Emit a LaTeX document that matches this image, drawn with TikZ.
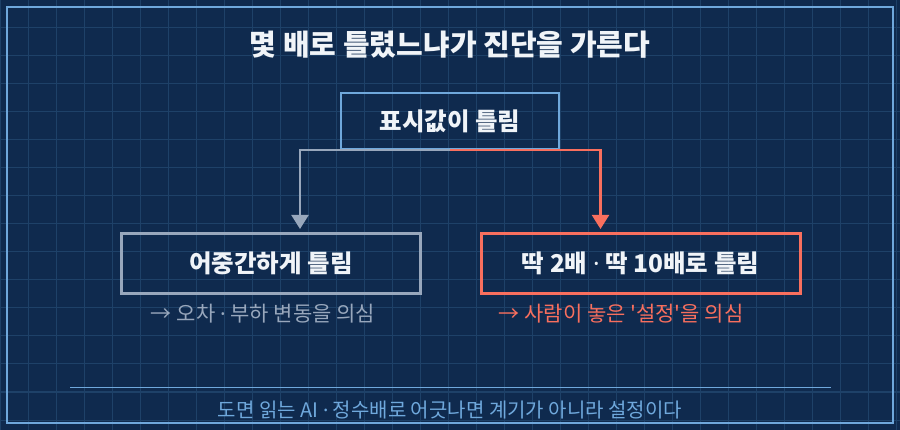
\documentclass[tikz,border=0pt]{standalone}
\usepackage{fontspec}
\newfontfamily\kr{Noto Sans CJK KR}
\newfontfamily\lat{Noto Sans}
\newcommand{\md}{{\lat ·}}
\usetikzlibrary{arrows.meta}
\definecolor{bgc}{HTML}{0F2A4E}
\definecolor{gridc}{HTML}{1E4168}
\definecolor{framec}{HTML}{6FA8DC}
\definecolor{grayc}{HTML}{98A7BC}
\definecolor{coralc}{HTML}{F86F5E}
\definecolor{whitec}{HTML}{F0F4F8}
\tikzset{
  boxbase/.style={draw, line width=3pt, inner sep=0pt, font=\kr\bfseries\fontsize{24.5}{28}\selectfont, text=whitec},
  topbox/.style={boxbase, draw=framec, line width=2.5pt, minimum width=218pt, minimum height=56pt},
  leftbox/.style={boxbase, draw=grayc, minimum width=299pt, minimum height=60pt},
  rightbox/.style={boxbase, draw=coralc, minimum width=319pt, minimum height=60pt},
  caption/.style={font=\kr\fontsize{21}{24}\selectfont, inner sep=0pt},
  conn/.style={line width=2.2pt, -{Triangle[width=17pt,length=14pt]}, shorten >=3pt},
}
\begin{document}
\begin{tikzpicture}[x=1pt,y=-1pt]
\useasboundingbox (0,0) rectangle (900,430);
\fill[bgc] (0,0) rectangle (900,430);
\foreach \i in {0,28,...,900} \draw[gridc, line width=1pt] (\i,0) -- (\i,430);
\foreach \j in {0,28,...,430} \draw[gridc, line width=1pt] (0,\j) -- (900,\j);
\draw[framec, line width=2pt] (7,7) rectangle (893,423);

\node[font=\kr\bfseries\fontsize{29}{33}\selectfont, text=whitec, inner sep=0pt] (title) at (450,45) {몇 배로 틀렸느냐가 진단을 가른다};

\node[topbox] (top) at (450,121) {표시값이 틀림};
\node[leftbox] (left) at (271,263.5) {어중간하게 틀림};
\node[rightbox] (right) at (640.5,263.5) {딱 2배 \md{} 딱 10배로 틀림};

\draw[conn, grayc] (top.south) -| ([xshift=29pt]left.north);
\draw[conn, coralc] (top.south) -| ([xshift=-40pt]right.north);

\node[caption, text=grayc] (lcap) at (263,314) {→ 오차 \md{} 부하 변동을 의심};
\node[caption, text=coralc] (rcap) at (621,314) {→ 사람이 놓은 '설정'을 의심};

\coordinate (ruleL) at (70,388);
\coordinate (ruleR) at (831,388);
\draw[framec, line width=1pt] (ruleL) -- (ruleR);
\node[font=\kr\fontsize{20}{23}\selectfont, text=framec, inner sep=0pt] (foot) at (450,410) {도면 읽는 AI \md{} 정수배로 어긋나면 계기가 아니라 설정이다};
\end{tikzpicture}
\end{document}
